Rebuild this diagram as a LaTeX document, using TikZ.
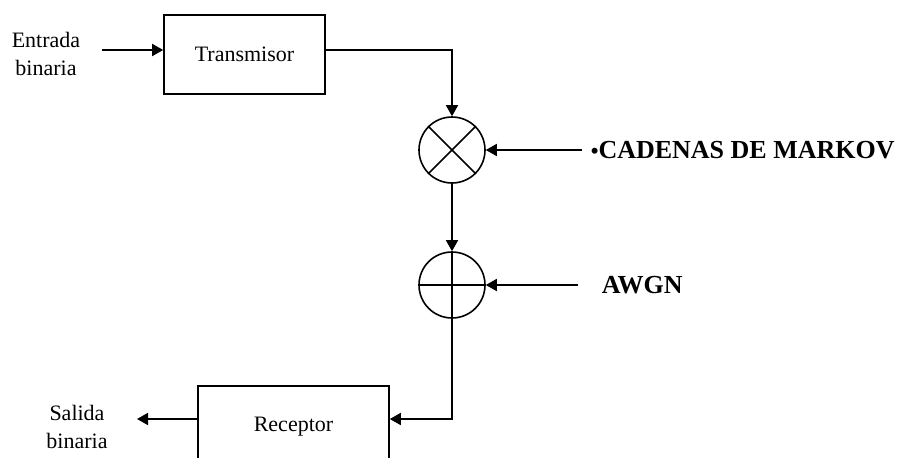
\documentclass[tikz,border=0pt]{standalone}
\usepackage{fontspec}
\setmainfont{Liberation Serif}
\usetikzlibrary{arrows.meta}

\begin{document}
\begin{tikzpicture}[x=1pt, y=-1pt, line width=1.6pt,
    block/.style={rectangle, draw, fill=white, inner sep=0pt},
    mixer/.style={circle, draw, fill=white, minimum size=66pt, inner sep=0pt},
    lbl/.style={font=\fontsize{22}{28}\selectfont, align=center, inner sep=0pt},
    bold lbl/.style={font=\fontsize{26}{28}\selectfont\bfseries, inner sep=0pt, anchor=west},
    arr/.style={-{Triangle[length=11pt, width=12pt]}}]
    \clip (0,0) rectangle (903,458);

    % Draw nodes
    \node[block, minimum width=161pt, minimum height=79pt] (tx) at (244.5,54.5) {};
    \node[lbl] (txt) at (tx) {Transmisor};
    \node[block, minimum width=191pt, minimum height=82pt] (rx) at (293.5,427) {};
    \node[lbl] (rxt) at (rx) {Receptor};
    \node[mixer] (mult) at (452,150) {};
    \node[mixer] (add) at (452,285) {};
    \node[lbl] (entrada) at (46,54) {Entrada\\binaria};
    \node[lbl] (salida) at (77,427) {Salida\\binaria};
    \node[bold lbl] (markov) at (590,150) {{\fontsize{22}{28}\selectfont•}CADENAS DE MARKOV};
    \node[bold lbl] (awgn) at (601,285) {AWGN};
    \coordinate (in) at (102,50);
    \coordinate (out) at (137,419);

    % Draw symbols inside the mixers
    \draw (mult.north east) -- (mult.south west);
    \draw (mult.north west) -- (mult.south east);
    \draw (add.north) -- (add.south);
    \draw (add.west) -- (add.east);

    % Draw connections
    \draw[arr] (in) -- (in -| tx.west);
    \draw[arr] (tx.east |- in) -| (mult.north);
    \draw[arr] ([xshift=-8pt]markov.west) -- (mult.east);
    \draw[arr] (mult.south) -- (add.north);
    \draw[arr] ([xshift=-23pt]awgn.west) -- (add.east);
    \draw[arr] (add.south) |- (rx.east |- out);
    \draw[arr] (out -| rx.west) -- (out);
\end{tikzpicture}
\end{document}
